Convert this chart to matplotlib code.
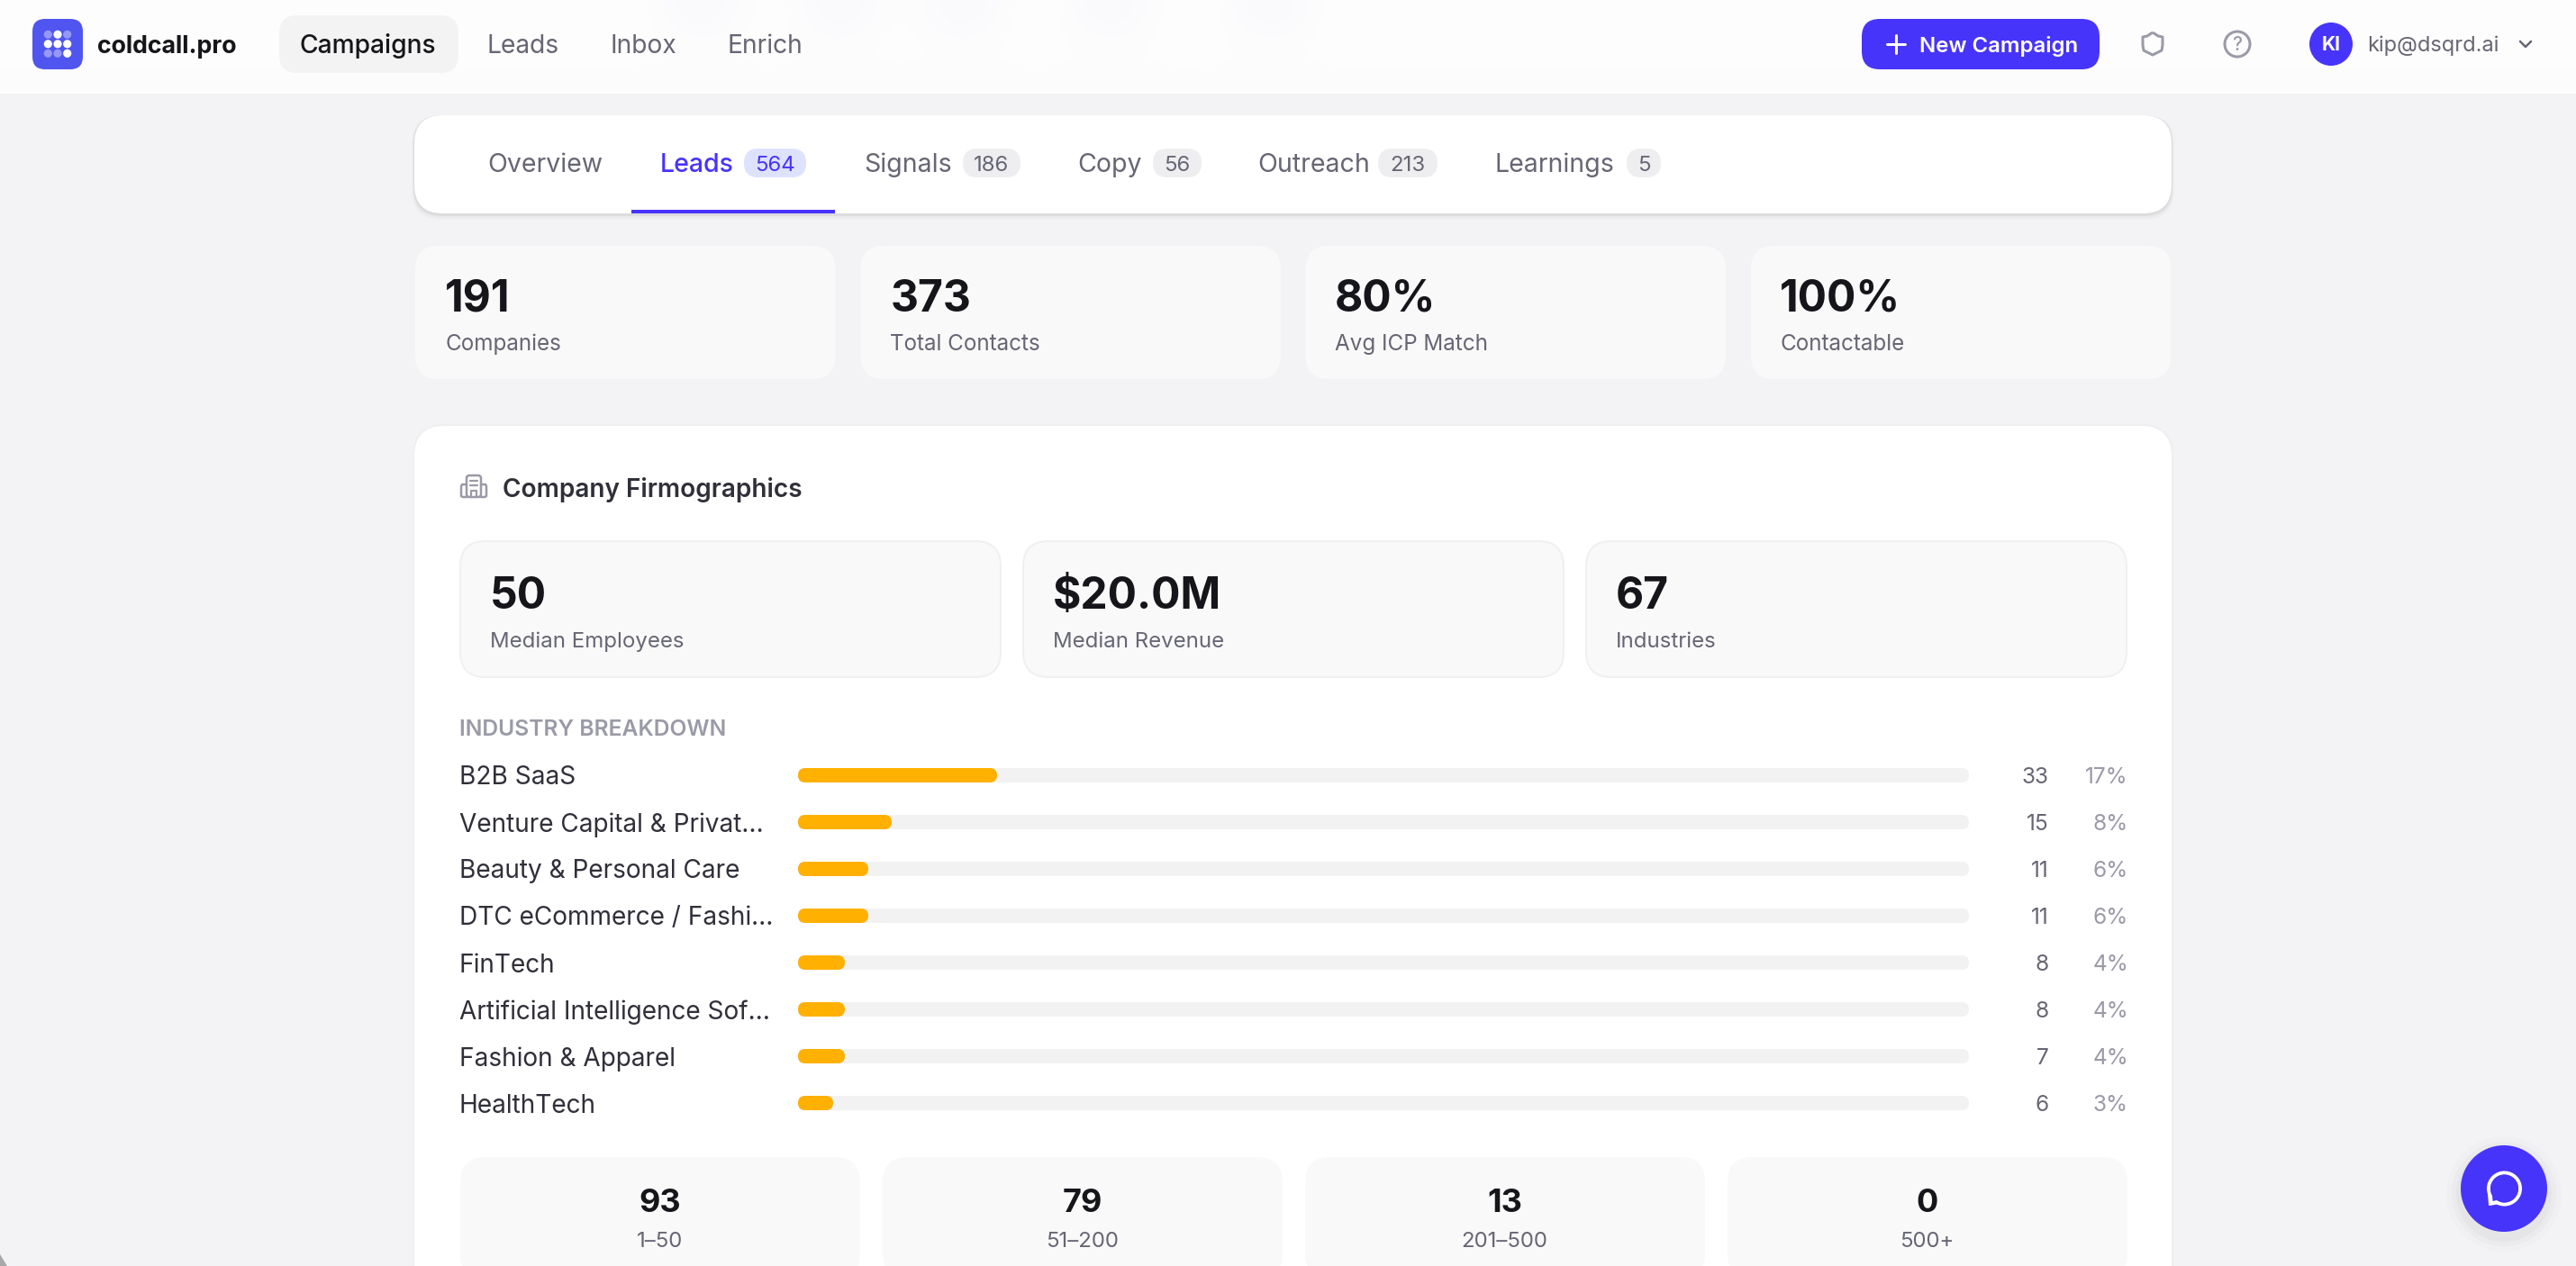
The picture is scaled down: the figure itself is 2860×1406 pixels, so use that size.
import numpy as np
import matplotlib
matplotlib.use("Agg")
import matplotlib.pyplot as plt
from matplotlib.patches import FancyBboxPatch, Circle, PathPatch, Polygon
from matplotlib.path import Path

# ---- data ----
nav_items = ["Campaigns", "Leads", "Inbox", "Enrich"]
tab_names = ["Overview", "Leads", "Signals", "Copy", "Outreach", "Learnings"]
tab_counts = [None, "564", "186", "56", "213", "5"]
kpi_values = ["191", "373", "80%", "100%"]
kpi_labels = ["Companies", "Total Contacts", "Avg ICP Match", "Contactable"]
firmo_values = ["50", "$20.0M", "67"]
firmo_labels = ["Median Employees", "Median Revenue", "Industries"]
industries = ["B2B SaaS", "Venture Capital & Privat...", "Beauty & Personal Care",
              "DTC eCommerce / Fashi...", "FinTech", "Artificial Intelligence Sof...",
              "Fashion & Apparel", "HealthTech"]
industry_counts = [33, 15, 11, 11, 8, 8, 7, 6]
industry_pcts = [17, 8, 6, 6, 4, 4, 4, 3]
size_values = ["93", "79", "13", "0"]
size_labels = ["1–50", "51–200", "201–500", "500+"]

# ---- styles ----
W, H = 2860, 1406
DPI = 100
BLUE = "#4734FB"
INK = "#15151a"
MID = "#666674"
SOFT = "#9a9aa8"
BODY = "#30303a"
BG = "#f3f3f5"
CARD = "#f9f9fa"
plt.rcParams["font.family"] = ["Inter", "Liberation Sans", "DejaVu Sans"]


def pt(px):
    return px * 72 / DPI


fig = plt.figure(figsize=(W / DPI, H / DPI), dpi=DPI, facecolor=BG)
ax = fig.add_axes([0, 0, 1, 1])
ax.set_xlim(0, W)
ax.set_ylim(H, 0)
ax.axis("off")


def box(x0, y0, x1, y1, r, fc, ec="none", lw=0.0, z=1, alpha=None):
    p = FancyBboxPatch((x0, y0), x1 - x0, y1 - y0,
                       boxstyle=f"round,pad=0,rounding_size={r}",
                       fc=fc, ec=ec, lw=pt(lw), zorder=z, alpha=alpha)
    ax.add_patch(p)
    return p


def txt(x, y, s, px, color, weight="normal", ha="left", z=5):
    return ax.text(x, y, s, fontsize=pt(px), color=color, fontweight=weight,
                   ha=ha, va="baseline", zorder=z)


def stroke(xs, ys, color, lw, z=5, closed=False):
    ax.plot(xs, ys, color=color, lw=pt(lw), solid_capstyle="round",
            solid_joinstyle="round", zorder=z)


# ---- top bar ----
bar = np.ones((104, 572, 3)) * (254 / 255)
xx = np.arange(572) * 5.0
yy = np.arange(104)[:, None]
for cx in (775, 929, 1066, 1230, 1408):
    g = np.exp(-((xx - cx) / 50.0) ** 2) * np.exp(-(yy / 45.0) ** 2)
    bar[:, :, 0] -= g * 4 / 255
    bar[:, :, 1] -= g * 4 / 255
    bar[:, :, 2] -= g * 1 / 255
bar -= (yy / 104.0)[:, :, None] ** 2 * (2 / 255)
ax.imshow(bar, extent=(0, W, 104, 0), aspect="auto", zorder=0.5, interpolation="bilinear")
ax.set_xlim(0, W)
ax.set_ylim(H, 0)

# logo
box(36, 21, 92, 77, 14, "#4F55EE", z=2)
logo_alpha = [[.4, 1, .4], [1, 1, 1], [.4, .4, 1]]
for r_i, row in enumerate(logo_alpha):
    for c_i, a in enumerate(row):
        ax.add_patch(Circle((53.3 + c_i * 10.7, 38.3 + r_i * 10.5), 4.6, fc="white",
                            alpha=a, ec="none", zorder=3))
txt(108, 59, "coldcall.pro", 26.8, INK, "bold")

box(310, 17, 509, 81, 20, "#f3f3f4", z=2)
nav_x = [333, 540.5, 677, 808]
for i, (name, x) in enumerate(zip(nav_items, nav_x)):
    txt(x, 59, name, 28.2, INK if i == 0 else MID, "medium" if i == 0 else "normal")

# right of the top bar
box(2067, 21, 2331, 77, 20, BLUE, z=2)
stroke([2095, 2115], [49, 49], "white", 3)
stroke([2105, 2105], [39, 59], "white", 3)
txt(2131, 58, "New Campaign", 24, "white", "semibold")
shield = Path([(2390, 36), (2396, 40), (2401, 41), (2401, 50), (2400, 56), (2390, 61),
               (2380, 56), (2379, 50), (2379, 41), (2384, 40), (2390, 36)])
ax.add_patch(PathPatch(shield, fc="none", ec=SOFT, lw=pt(3), joinstyle="round", zorder=5))
ax.add_patch(Circle((2484, 49), 14, fc="none", ec=SOFT, lw=pt(3), zorder=5))
ax.text(2484, 49.5, "?", fontsize=pt(21), color=SOFT, ha="center", va="center", zorder=5, fontweight="medium")
ax.add_patch(Circle((2588, 49), 24, fc=BLUE, ec="none", zorder=4))
ax.text(2588, 49.5, "KI", fontsize=pt(21), color="white", ha="center", va="center",
        fontweight="bold", zorder=5)
txt(2628, 57, "kip@dsqrd.ai", 23.6, MID)
stroke([2798, 2804, 2810], [46, 52, 46], MID, 2.5)

# ---- tabs ----
for off, a in ((6, .015), (4, .025), (2, .05)):
    box(460 - off / 2, 128, 2411 + off / 2, 238 + off, 32, "black", z=1, alpha=a)
box(460, 128, 2411, 237, 32, "white", z=1.5)
tab_x = [541.5, 733, 959, 1196.5, 1396.5, 1660]
pill_x = [None, (826, 895), (1069, 1133), (1280, 1334), (1530, 1596), (1806, 1844)]
for i, (name, cnt, x, pr) in enumerate(zip(tab_names, tab_counts, tab_x, pill_x)):
    active = i == 1
    txt(x, 191, name, 28.5, BLUE if active else MID, "medium" if active else "normal")
    if cnt is not None:
        box(pr[0], 165, pr[1], 197, 16, "#dde2fd" if active else "#eeeef0", z=2)
        ax.text((pr[0] + pr[1]) / 2, 181, cnt, fontsize=pt(24), ha="center", va="center_baseline",
                color=BLUE if active else MID, zorder=5)
ax.fill_between([701, 927], 233, 237, color=BLUE, lw=0, zorder=3)

# ---- KPI cards ----
for i, (v, lab) in enumerate(zip(kpi_values, kpi_labels)):
    x0 = 461 + i * 494.3
    box(x0, 273, x0 + 466.5, 421, 26, "#f9f9fa", z=1)
    txt(x0 + 33 - (0.6 if i > 1 else 0), 346, v, 48, INK, "bold")
    txt(x0 + 33 - (0.6 if i > 1 else 0), 389, lab, 24.2, MID)

# ---- main card ----
box(458, 471, 2413, 1500, 36, "#ececee", z=1, alpha=.55)
box(460, 473, 2411, 1500, 34, "white", z=1.2)

# building icon
bc = SOFT
ax.add_patch(FancyBboxPatch((518, 528), 16, 24, boxstyle="round,pad=0,rounding_size=3",
                            fc="none", ec=bc, lw=pt(2.5), zorder=5))
stroke([518, 513, 512, 512, 514, 518], [538, 538, 540, 551, 552, 552], bc, 2.5)
stroke([534, 539, 540, 540, 538, 534], [538, 538, 540, 551, 552, 552], bc, 2.5)
stroke([522, 530], [534, 534], bc, 2.2)
stroke([522, 530], [539, 539], bc, 2.2)
stroke([523, 523, 529, 529], [552, 545, 545, 552], bc, 2.2)
txt(558, 552, "Company Firmographics", 28, BODY, "semibold")

for i, (v, lab) in enumerate(zip(firmo_values, firmo_labels)):
    x0 = 511 + i * 625
    box(x0, 601, x0 + 600, 752, 28, CARD, ec="#f0f0f2", lw=2, z=2)
    txt(x0 + 33, 676, v, 48, INK, "bold")
    txt(x0 + 33, 719, lab, 24, MID)

ib = txt(510, 817, "INDUSTRY BREAKDOWN", 24.7, SOFT, "semibold")

# ---- industry bars: 13 px = 1 percentage point on both axes; rows 52 px apart ----
PX_X, ROW_STEP = 13.0, 4
ax_b = fig.add_axes([886 / W, 1 - 1251 / H, 1300 / W, 416 / H], facecolor="none", zorder=3)
rows = np.arange(len(industries)) * ROW_STEP
ax_b.set_xlim(0, 100)
ax_b.set_ylim(rows[-1] + ROW_STEP / 2, -ROW_STEP / 2)
for s in ax_b.spines.values():
    s.set_visible(False)
ax_b.set_xticks([])
ax_b.set_yticks(rows, labels=industries, fontsize=pt(28), color=BODY)
ax_b.tick_params(axis="y", length=0, pad=pt(376))
for t in ax_b.get_yticklabels():
    t.set_ha("left")
bar_h = 16 / PX_X
for y, pct, cnt in zip(rows, industry_pcts, industry_counts):
    ax_b.add_patch(FancyBboxPatch((0, y - bar_h / 2), 100, bar_h,
                                  boxstyle=f"round,pad=0,rounding_size={bar_h / 2}",
                                  fc="#f2f2f3", ec="none", lw=0, zorder=2))
    ax_b.add_patch(FancyBboxPatch((0, y - bar_h / 2), pct, bar_h,
                                  boxstyle=f"round,pad=0,rounding_size={bar_h / 2}",
                                  fc="#FFB000", ec="none", lw=0, zorder=3))
    ax_b.text(100 + 89 / PX_X, y, str(cnt), fontsize=pt(24.5), color=MID, ha="right", va="center_baseline")
    ax_b.text(100 + 177 / PX_X, y, f"{pct}%", fontsize=pt(24.5), color=SOFT, ha="right", va="center_baseline")

# ---- size bucket cards ----
for i, (v, lab) in enumerate(zip(size_values, size_labels)):
    x0 = 511 + i * 469
    box(x0, 1285, x0 + 444, 1420, 28, CARD, z=2)
    ax.text(x0 + 221.5, 1346, v, fontsize=pt(36), color=INK, fontweight="bold", ha="center", va="baseline", zorder=5)
    ax.text(x0 + 221.5, 1385, lab, fontsize=pt(24), color=MID, ha="center", va="baseline", zorder=5)

# ---- chat button ----
for grow, a in ((16, .012), (10, .018), (5, .025)):
    ax.add_patch(Circle((2780, 1326), 48 + grow, fc="black", ec="none", alpha=a, zorder=6))
ax.add_patch(Circle((2780, 1320), 48, fc=BLUE, ec="none", zorder=7))
ax.add_patch(Circle((2780.5, 1320), 17.5, fc="none", ec="white", lw=pt(4), zorder=8))
tail = Polygon([(2763, 1326), (2764, 1338), (2775, 1336)], closed=True, fc="white", ec="white",
               lw=pt(2), joinstyle="round", zorder=8)
ax.add_patch(tail)
ax.add_patch(Polygon([(2767, 1327), (2767.5, 1334), (2774, 1332.5)], closed=True, fc=BLUE, ec="none", zorder=8.5))
ax.add_patch(Circle((2780.5, 1320), 15.5, fc=BLUE, ec="none", zorder=8.2))

# window corner
ax.add_patch(Polygon([(0, 1393), (8, 1406), (0, 1406)], closed=True, fc="#a8a8a8", ec="none", zorder=9))

fig.savefig("out.png", dpi=DPI, facecolor=BG)
